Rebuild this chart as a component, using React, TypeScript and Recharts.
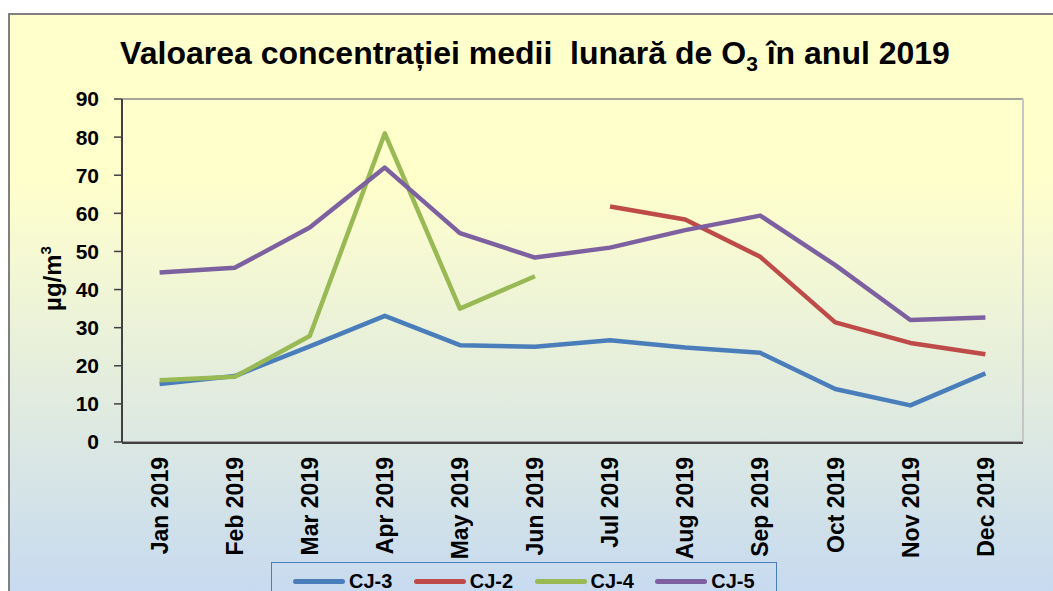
import { CartesianGrid, Legend, Line, LineChart, XAxis, YAxis } from 'recharts';

const FONT = '"Liberation Sans", Arial, sans-serif';

// monthly mean O3 concentration, µg/m3
const months = [
  'Jan 2019', 'Feb 2019', 'Mar 2019', 'Apr 2019', 'May 2019', 'Jun 2019',
  'Jul 2019', 'Aug 2019', 'Sep 2019', 'Oct 2019', 'Nov 2019', 'Dec 2019',
];
const cj3 = [15.2, 17.3, 25.1, 33.1, 25.4, 25.0, 26.7, 24.8, 23.4, 13.9, 9.6, 18.0];
const cj2 = [null, null, null, null, null, null, 61.8, 58.4, 48.6, 31.4, 26.0, 23.0];
const cj4 = [16.2, 17.1, 27.8, 81.0, 35.0, 43.5, null, null, null, null, null, null];
const cj5 = [44.5, 45.7, 56.3, 72.0, 54.8, 48.4, 51.0, 55.6, 59.4, 46.4, 32.0, 32.7];

const seriesOrder = ['CJ-3', 'CJ-2', 'CJ-4', 'CJ-5'];
const yTicks = [0, 10, 20, 30, 40, 50, 60, 70, 80, 90];
const boundaryTicks = [0, 1, 2, 3, 4, 5, 6, 7, 8, 9, 10, 11, 12];

const data = months.map((month, i) => ({
  month,
  cj3: cj3[i],
  cj2: cj2[i],
  cj4: cj4[i],
  cj5: cj5[i],
}));

const MonthTick = ({ x, y, payload }: any) => {
  const ty = y + 15;
  return (
    <text
      x={x}
      y={ty}
      dy="0.36em"
      textAnchor="end"
      transform={`rotate(-90, ${x}, ${ty})`}
      fontFamily={FONT}
      fontWeight={700}
      fontSize={23}
      fill="#000"
    >
      {payload.value}
    </text>
  );
};

const YLabel = ({ viewBox }: any) => {
  const x = viewBox.x + 52;
  const y = viewBox.y + viewBox.height / 2 + 8;
  return (
    <text
      x={x}
      y={y}
      dy="0.36em"
      textAnchor="middle"
      transform={`rotate(-90, ${x}, ${y})`}
      fontFamily={FONT}
      fontWeight={700}
      fontSize={24}
      fill="#000"
    >
      µg/m
      <tspan fontSize={15} dy={-10}>3</tspan>
    </text>
  );
};

const LegendBox = ({ payload }: any) => (
  <div style={{ display: 'flex', alignItems: 'center', height: 36, paddingLeft: 21 }}>
    {(payload || []).map((p: any) => (
      <div key={p.value} style={{ display: 'flex', alignItems: 'center', width: 122.5 }}>
        <span
          style={{ width: 52, height: 5, borderRadius: 3, background: p.color, marginRight: 4 }}
        />
        <span style={{ fontFamily: FONT, fontWeight: 700, fontSize: 20, color: '#000' }}>
          {p.value}
        </span>
      </div>
    ))}
  </div>
);

export default function App() {
  return (
    <div
      style={{
        position: 'fixed',
        left: 0,
        top: 0,
        width: 1053,
        height: 591,
        overflow: 'hidden',
        background: '#fff',
        fontFamily: FONT,
      }}
    >
      <div
        style={{
          position: 'absolute',
          left: 8,
          top: 13,
          width: 1100,
          height: 590,
          border: '2px solid #808080',
          background: 'linear-gradient(180deg, #ffffcc 0%, #ffffcc 28%, #c5d9f1 100%)',
        }}
      />
      <div
        style={{
          position: 'absolute',
          left: 0,
          top: 37,
          width: 1070,
          textAlign: 'center',
          fontWeight: 700,
          fontSize: 32,
          lineHeight: '32px',
          whiteSpace: 'pre',
          color: '#000',
        }}
      >
        {'Valoarea concentrației medii  lunară de O'}
        <span style={{ fontSize: 21, position: 'relative', top: 7 }}>3</span>
        {' în anul 2019'}
      </div>
      <div style={{ position: 'absolute', left: 0, top: 0 }}>
        <LineChart
          width={1053}
          height={591}
          data={data}
          margin={{ top: 99, right: 29, bottom: 147, left: 0 }}
        >
          <CartesianGrid horizontal vertical={false} stroke="#8a8a8a" strokeWidth={1.5} />
          <XAxis
            xAxisId="marks"
            type="number"
            domain={[0, 12]}
            ticks={boundaryTicks}
            interval={0}
            allowDataOverflow
            height={1}
            tick={false}
            tickSize={7}
            tickLine={{ stroke: '#404040', strokeWidth: 1.5 }}
            axisLine={{ stroke: '#404040', strokeWidth: 2 }}
          />
          <XAxis
            xAxisId="cat"
            dataKey="month"
            height={1}
            interval={0}
            padding={{ left: 37.6, right: 37.6 }}
            axisLine={false}
            tickLine={false}
            tickSize={0}
            tickMargin={0}
            tick={<MonthTick />}
          />
          <YAxis
            yAxisId="v"
            width={122}
            domain={[0, 90]}
            ticks={yTicks}
            interval={0}
            tickSize={8}
            tickMargin={15}
            tickLine={{ stroke: '#404040', strokeWidth: 1.5 }}
            axisLine={{ stroke: '#404040', strokeWidth: 2 }}
            tick={{ fill: '#000', fontSize: 21, fontWeight: 700, fontFamily: FONT }}
            label={{ content: YLabel }}
          />
          <YAxis
            yAxisId="frame"
            orientation="right"
            width={1}
            domain={[0, 90]}
            tick={false}
            tickLine={false}
            axisLine={{ stroke: '#c6c6c6', strokeWidth: 2 }}
          />
          <Legend
            layout="horizontal"
            verticalAlign="middle"
            align="center"
            itemSorter={(item: any) => seriesOrder.indexOf(item.value)}
            content={<LegendBox />}
            wrapperStyle={{
              left: 271,
              top: 562,
              width: 506,
              height: 40,
              border: '1px solid #4a7ebb',
              boxSizing: 'border-box',
            }}
          />
          <Line
            xAxisId="cat"
            yAxisId="v"
            type="linear"
            dataKey="cj3"
            name="CJ-3"
            stroke="#4a7ebb"
            strokeWidth={4.5}
            strokeLinejoin="round"
            dot={false}
            activeDot={false}
            isAnimationActive={false}
          />
          <Line
            xAxisId="cat"
            yAxisId="v"
            type="linear"
            dataKey="cj2"
            name="CJ-2"
            stroke="#be4b48"
            strokeWidth={4.5}
            strokeLinejoin="round"
            dot={false}
            activeDot={false}
            isAnimationActive={false}
          />
          <Line
            xAxisId="cat"
            yAxisId="v"
            type="linear"
            dataKey="cj4"
            name="CJ-4"
            stroke="#98b954"
            strokeWidth={4.5}
            strokeLinejoin="round"
            dot={false}
            activeDot={false}
            isAnimationActive={false}
          />
          <Line
            xAxisId="cat"
            yAxisId="v"
            type="linear"
            dataKey="cj5"
            name="CJ-5"
            stroke="#7d60a0"
            strokeWidth={4.5}
            strokeLinejoin="round"
            dot={false}
            activeDot={false}
            isAnimationActive={false}
          />
        </LineChart>
      </div>
    </div>
  );
}
